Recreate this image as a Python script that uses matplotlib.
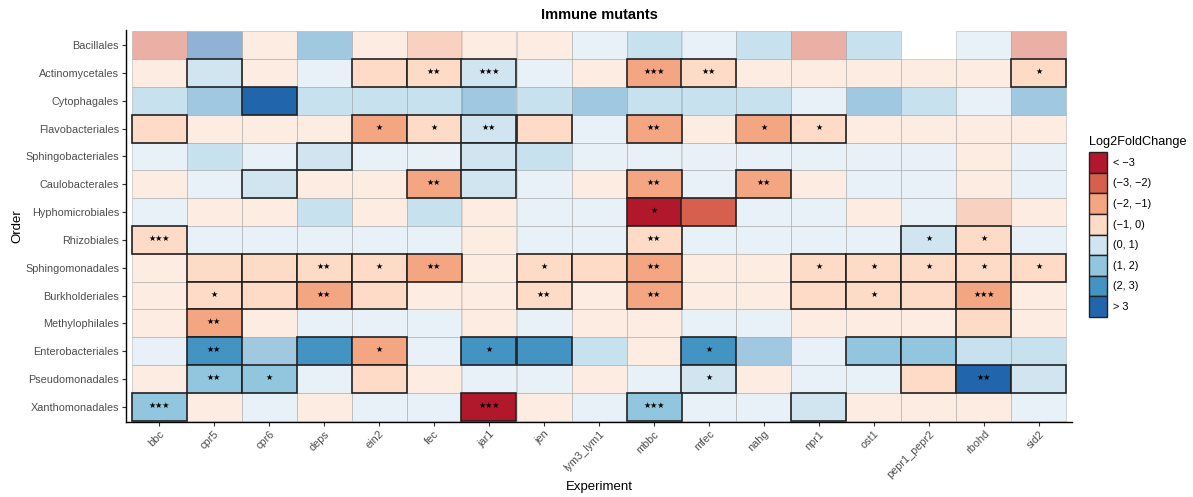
import matplotlib
matplotlib.use("Agg")
import matplotlib.pyplot as plt
from matplotlib.patches import Rectangle, Patch
import numpy as np

experiments = ["bbc", "cpr5", "cpr6", "deps", "ein2", "fec", "jar1", "jen", "lym3_lym1",
               "mbbc", "mfec", "nahg", "npr1", "ost1", "pepr1_pepr2", "rbohd", "sid2"]
orders = ["Bacillales", "Actinomycetales", "Cytophagales", "Flavobacteriales",
          "Sphingobacteriales", "Caulobacterales", "Hyphomicrobiales", "Rhizobiales",
          "Sphingomonadales", "Burkholderiales", "Methylophilales", "Enterobacteriales",
          "Pseudomonadales", "Xanthomonadales"]

bin_labels = ["< \u22123", "(\u22123, \u22122)", "(\u22122, \u22121)", "(\u22121, 0)",
              "(0, 1)", "(1, 2)", "(2, 3)", "> 3"]
bin_colors = ["#B2182B", "#D6604D", "#F4A582", "#FDDBC7",
              "#D1E5F0", "#92C5DE", "#4393C3", "#2166AC"]

# Log2FoldChange bin per cell (0 = "< -3" ... 7 = "> 3"), -1 = missing
bins = [
    [1, 7, 3, 6, 3, 2, 3, 3, 4, 5, 4, 5, 1, 5, -1, 4, 1],   # Bacillales
    [3, 4, 3, 4, 3, 3, 4, 4, 3, 2, 3, 3, 3, 3, 3, 3, 3],    # Actinomycetales
    [5, 6, 7, 5, 5, 5, 6, 5, 6, 5, 5, 5, 4, 6, 5, 4, 6],    # Cytophagales
    [3, 3, 3, 3, 2, 3, 4, 3, 4, 2, 3, 2, 3, 3, 3, 3, 3],    # Flavobacteriales
    [4, 5, 4, 4, 4, 4, 4, 5, 4, 4, 4, 4, 4, 4, 4, 3, 4],    # Sphingobacteriales
    [3, 4, 4, 3, 3, 2, 4, 4, 3, 2, 4, 2, 3, 4, 4, 3, 4],    # Caulobacterales
    [4, 3, 3, 5, 3, 5, 3, 4, 4, 0, 1, 4, 4, 3, 4, 2, 3],    # Hyphomicrobiales
    [3, 4, 4, 4, 4, 4, 3, 4, 4, 3, 4, 4, 4, 4, 4, 3, 4],    # Rhizobiales
    [3, 3, 3, 3, 3, 2, 3, 3, 3, 2, 3, 3, 3, 3, 3, 3, 3],    # Sphingomonadales
    [3, 3, 3, 2, 3, 3, 3, 3, 3, 2, 3, 3, 3, 3, 3, 2, 3],    # Burkholderiales
    [3, 2, 3, 4, 4, 4, 3, 4, 3, 3, 4, 4, 3, 3, 3, 3, 3],    # Methylophilales
    [4, 6, 6, 6, 2, 4, 6, 6, 5, 3, 6, 6, 4, 5, 5, 5, 5],    # Enterobacteriales
    [3, 5, 5, 4, 3, 3, 4, 4, 3, 4, 4, 3, 4, 4, 3, 7, 4],    # Pseudomonadales
    [5, 3, 4, 3, 4, 4, 0, 3, 4, 5, 4, 4, 4, 3, 3, 3, 4],    # Xanthomonadales
]

# significance (bordered, full colour) per cell
significant = [
    [0, 0, 0, 0, 0, 0, 0, 0, 0, 0, 0, 0, 0, 0, 0, 0, 0],
    [0, 1, 0, 0, 1, 1, 1, 0, 0, 1, 1, 0, 0, 0, 0, 0, 1],
    [0, 0, 1, 0, 0, 0, 0, 0, 0, 0, 0, 0, 0, 0, 0, 0, 0],
    [1, 0, 0, 0, 1, 1, 1, 1, 0, 1, 0, 1, 1, 0, 0, 0, 0],
    [0, 0, 0, 1, 0, 0, 1, 0, 0, 0, 0, 0, 0, 0, 0, 0, 0],
    [0, 0, 1, 0, 0, 1, 1, 0, 0, 1, 0, 1, 0, 0, 0, 0, 0],
    [0, 0, 0, 0, 0, 0, 0, 0, 0, 1, 1, 0, 0, 0, 0, 0, 0],
    [1, 0, 0, 0, 0, 0, 0, 0, 0, 1, 0, 0, 0, 0, 1, 1, 0],
    [0, 1, 1, 1, 1, 1, 0, 1, 1, 1, 0, 0, 1, 1, 1, 1, 1],
    [0, 1, 1, 1, 1, 0, 0, 1, 0, 1, 0, 0, 1, 1, 1, 1, 0],
    [0, 1, 0, 0, 0, 0, 0, 0, 0, 0, 0, 0, 0, 0, 0, 1, 0],
    [0, 1, 0, 1, 1, 0, 1, 1, 0, 0, 1, 0, 0, 1, 1, 0, 0],
    [0, 1, 1, 0, 1, 0, 0, 0, 0, 0, 1, 0, 0, 0, 1, 1, 1],
    [1, 0, 0, 0, 0, 0, 1, 0, 0, 1, 0, 0, 1, 0, 0, 0, 0],
]

# star labels per cell
stars = [
    ["", "", "", "", "", "", "", "", "", "", "", "", "", "", "", "", ""],
    ["", "", "", "", "", "**", "***", "", "", "***", "**", "", "", "", "", "", "*"],
    ["", "", "", "", "", "", "", "", "", "", "", "", "", "", "", "", ""],
    ["", "", "", "", "*", "*", "**", "", "", "**", "", "*", "*", "", "", "", ""],
    ["", "", "", "", "", "", "", "", "", "", "", "", "", "", "", "", ""],
    ["", "", "", "", "", "**", "", "", "", "**", "", "**", "", "", "", "", ""],
    ["", "", "", "", "", "", "", "", "", "*", "", "", "", "", "", "", ""],
    ["***", "", "", "", "", "", "", "", "", "**", "", "", "", "", "*", "*", ""],
    ["", "", "", "**", "*", "**", "", "*", "", "**", "", "", "*", "*", "*", "*", "*"],
    ["", "*", "", "**", "", "", "", "**", "", "**", "", "", "", "*", "", "***", ""],
    ["", "**", "", "", "", "", "", "", "", "", "", "", "", "", "", "", ""],
    ["", "**", "", "", "*", "", "*", "", "", "", "*", "", "", "", "", "", ""],
    ["", "**", "*", "", "", "", "", "", "", "", "*", "", "", "", "", "**", ""],
    ["***", "", "", "", "", "", "***", "", "", "***", "", "", "", "", "", "", ""],
]

plt.rcParams['font.family'] = ['Liberation Sans', 'DejaVu Sans']

fig = plt.figure(figsize=(11.93, 4.97), dpi=100)
ax = fig.add_axes([126 / 1193, 1 - 422 / 497, (1072 - 126) / 1193, (422 - 30) / 497])

n_rows = len(orders)
n_cols = len(experiments)

# non-significant tiles first
for i in range(n_rows):
    y = n_rows - 1 - i
    for j in range(n_cols):
        b = bins[i][j]
        if b < 0 or significant[i][j]:
            continue
        ax.add_patch(Rectangle((j - 0.5, y - 0.5), 1, 1, facecolor=bin_colors[b],
                               alpha=0.5, edgecolor="#A0A0A0", linewidth=0.6, zorder=1))
# significant tiles on top
for i in range(n_rows):
    y = n_rows - 1 - i
    for j in range(n_cols):
        b = bins[i][j]
        if b < 0 or not significant[i][j]:
            continue
        ax.add_patch(Rectangle((j - 0.5, y - 0.5), 1, 1, facecolor=bin_colors[b],
                               edgecolor="#222222", linewidth=1.2, zorder=2))
for i in range(n_rows):
    y = n_rows - 1 - i
    for j in range(n_cols):
        s = stars[i][j]
        if s:
            ax.text(j, y + 0.05, "\u2605" * len(s), ha="center", va="center",
                    fontsize=5.8, family="DejaVu Sans", color="black", zorder=3)

ax.set_xlim(-0.6, n_cols - 0.4)
ax.set_ylim(-0.55, n_rows - 0.45)
ax.set_xticks(range(n_cols))
ax.set_xticklabels(experiments, rotation=45, ha="right", rotation_mode="anchor",
                   fontsize=7.8, color="#4D4D4D")
ax.set_yticks(range(n_rows))
ax.set_yticklabels(orders[::-1], fontsize=7.8, color="#4D4D4D")
ax.tick_params(axis="both", length=3, width=0.8, color="#333333", pad=2)
for side in ["top", "right"]:
    ax.spines[side].set_visible(False)
for side in ["left", "bottom"]:
    ax.spines[side].set_linewidth(1.0)
    ax.spines[side].set_color("black")

ax.set_xlabel("Experiment", fontsize=9.5)
ax.xaxis.set_label_coords(0.5, -(481 - 422) / 392)
ax.set_ylabel("Order", fontsize=9.5)
ax.yaxis.set_label_coords((23 - 126) / 946, 0.5)
ax.set_title("Immune mutants", fontsize=10.5, fontweight="bold", pad=8)

handles = [Patch(facecolor=c, edgecolor="#222222", linewidth=1.0) for c in bin_colors]
leg = fig.legend(handles, bin_labels, loc="upper left", bbox_to_anchor=(1089 / 1193, 1 - 136 / 497),
                 title="Log2FoldChange", frameon=False, fontsize=7.8, title_fontsize=9.2,
                 handlelength=1.65, handleheight=2.55, labelspacing=0.0, handletextpad=0.6,
                 borderaxespad=0, borderpad=0)
leg._legend_box.align = "left"
leg._legend_box.sep = 3

fig.savefig("out.png", dpi=100)
